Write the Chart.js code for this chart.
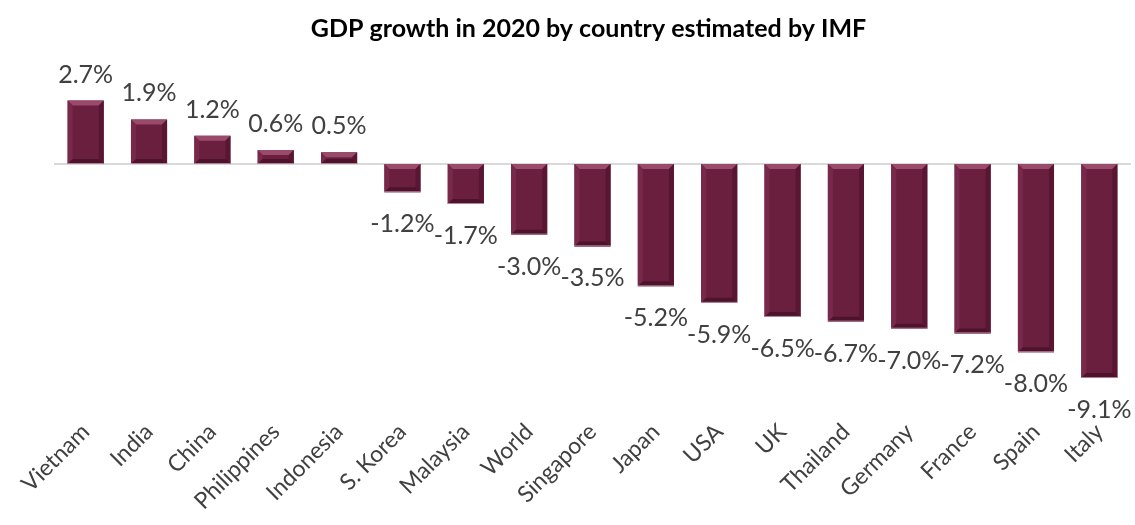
<!DOCTYPE html>
<html>
<head>
<meta charset="utf-8">
<script src="https://cdn.jsdelivr.net/npm/chart.js@4.4.0/dist/chart.umd.min.js"></script>
<style>
html, body { margin: 0; padding: 0; background: #fff; overflow: hidden; }
#wrap { width: 1135px; height: 525px; }
</style>
</head>
<body>
<div id="wrap"><canvas id="gdpChart"></canvas></div>
<script>
const countries = ['Vietnam', 'India', 'China', 'Philippines', 'Indonesia', 'S. Korea', 'Malaysia',
    'World', 'Singapore', 'Japan', 'USA', 'UK', 'Thailand', 'Germany', 'France', 'Spain', 'Italy'];
const growth = [2.7, 1.9, 1.2, 0.6, 0.5, -1.2, -1.7, -3.0, -3.5, -5.2, -5.9, -6.5, -6.7, -7.0, -7.2, -8.0, -9.1];

const FONT = "Lato, 'Open Sans', sans-serif";
const barFill = '#6b1f3f';
const textColor = '#404040';

// zero line across the plot
const zeroLinePlugin = {
    id: 'zeroLine',
    beforeDatasetsDraw(chart) {
        const { ctx, chartArea, scales } = chart;
        const y = scales.y.getPixelForValue(0);
        ctx.save();
        ctx.strokeStyle = '#d9d9d9';
        ctx.lineWidth = 2;
        ctx.beginPath();
        ctx.moveTo(chartArea.left, y);
        ctx.lineTo(chartArea.right, y);
        ctx.stroke();
        ctx.restore();
    }
};

// beveled look on each bar plus the value labels
const bevelPlugin = {
    id: 'bevel',
    afterDatasetsDraw(chart) {
        const ctx = chart.ctx;
        const meta = chart.getDatasetMeta(0);
        const b = 5;
        meta.data.forEach((bar, i) => {
            const left = bar.x - bar.width / 2;
            const right = bar.x + bar.width / 2;
            const top = Math.min(bar.y, bar.base);
            const bottom = Math.max(bar.y, bar.base);
            const bv = Math.min(b, (bottom - top) / 2);
            ctx.save();
            // top face
            ctx.fillStyle = '#9a4a6a';
            ctx.beginPath();
            ctx.moveTo(left, top); ctx.lineTo(right, top);
            ctx.lineTo(right - bv, top + bv); ctx.lineTo(left + bv, top + bv);
            ctx.closePath(); ctx.fill();
            // left face
            ctx.fillStyle = '#78294a';
            ctx.beginPath();
            ctx.moveTo(left, top); ctx.lineTo(left + bv, top + bv);
            ctx.lineTo(left + bv, bottom - bv); ctx.lineTo(left, bottom);
            ctx.closePath(); ctx.fill();
            // right face
            ctx.fillStyle = '#581632';
            ctx.beginPath();
            ctx.moveTo(right, top); ctx.lineTo(right - bv, top + bv);
            ctx.lineTo(right - bv, bottom - bv); ctx.lineTo(right, bottom);
            ctx.closePath(); ctx.fill();
            // bottom face
            ctx.fillStyle = '#4e132c';
            ctx.beginPath();
            ctx.moveTo(left, bottom); ctx.lineTo(right, bottom);
            ctx.lineTo(right - bv, bottom - bv); ctx.lineTo(left + bv, bottom - bv);
            ctx.closePath(); ctx.fill();
            ctx.fillStyle = 'rgba(230,190,205,0.7)';
            ctx.fillRect(left, bottom - 1, right - left, 1);
            ctx.restore();

            const v = growth[i];
            ctx.save();
            ctx.font = '25px ' + FONT;
            ctx.fillStyle = textColor;
            ctx.textAlign = 'center';
            ctx.textBaseline = 'middle';
            ctx.fillText(v.toFixed(1) + '%', bar.x, v >= 0 ? bar.y - 26 : bar.y + 32);
            ctx.restore();
        });
    }
};

new Chart(document.getElementById('gdpChart'), {
    type: 'bar',
    data: {
        labels: countries,
        datasets: [{
            label: 'GDP growth 2020',
            data: growth,
            backgroundColor: barFill,
            borderWidth: 0,
            categoryPercentage: 1,
            barPercentage: 0.57
        }]
    },
    options: {
        responsive: true,
        maintainAspectRatio: false,
        animation: false,
        layout: { padding: { left: 46, right: 4, top: 0, bottom: 0 } },
        plugins: {
            legend: { display: false },
            tooltip: { enabled: false },
            title: {
                display: true,
                text: 'GDP growth in 2020 by country estimated by IMF',
                color: '#000',
                font: { family: FONT, size: 25, weight: 'bold' },
                padding: { top: 14, bottom: 14 }
            }
        },
        scales: {
            x: {
                grid: { display: false },
                border: { display: false },
                ticks: {
                    color: textColor,
                    font: { family: FONT, size: 23 },
                    minRotation: 45,
                    maxRotation: 45,
                    padding: 10
                }
            },
            y: {
                min: -10.04,
                max: 4.51,
                border: { display: false },
                grid: { display: false },
                ticks: { display: false }
            }
        }
    },
    plugins: [zeroLinePlugin, bevelPlugin]
});
</script>
</body>
</html>
